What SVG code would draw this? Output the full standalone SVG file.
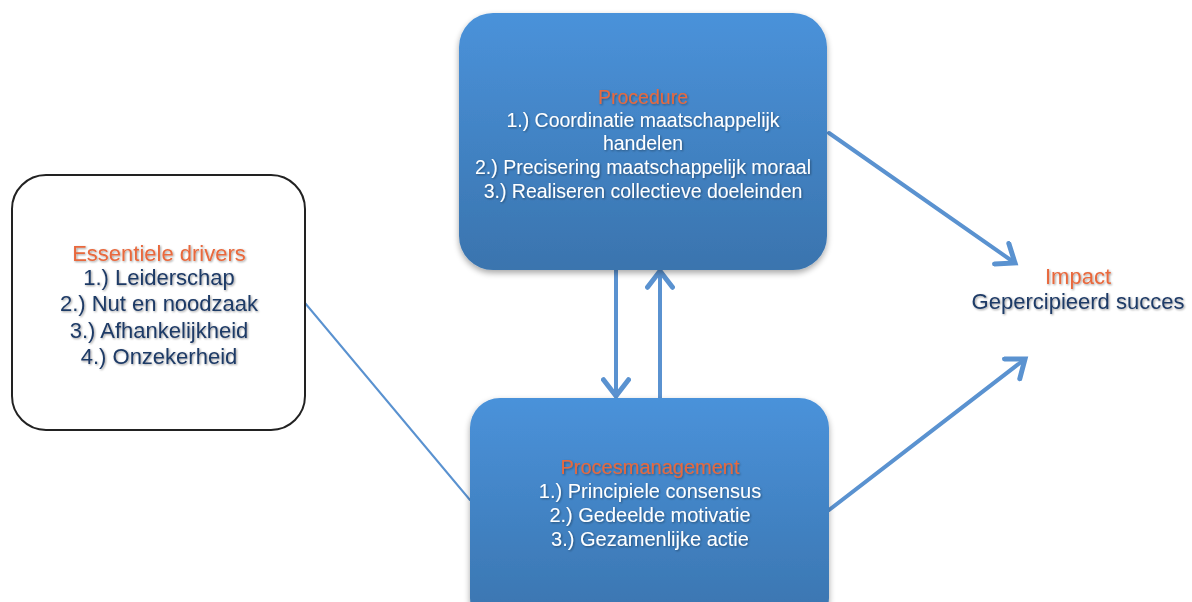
<svg xmlns="http://www.w3.org/2000/svg" width="1192" height="602" viewBox="0 0 1192 602">
<style>
.t{font-family:"Liberation Sans",Arial,sans-serif;text-anchor:middle}
.ttl{fill:#E8683C}
.w{fill:#FFFFFF}
.d{fill:#1F3A66}
.conn{stroke:#5A92D0;fill:none;stroke-linecap:round}
</style>
<defs>
<linearGradient id="blue" x1="0" y1="0" x2="0" y2="1">
<stop offset="0" stop-color="#4A92DA"/>
<stop offset="1" stop-color="#3A74AE"/>
</linearGradient>
<filter id="sh" x="-10%" y="-10%" width="120%" height="125%">
<feGaussianBlur in="SourceAlpha" stdDeviation="3"/>
<feOffset dx="0" dy="3"/>
<feComponentTransfer><feFuncA type="linear" slope="0.35"/></feComponentTransfer>
<feMerge><feMergeNode/><feMergeNode in="SourceGraphic"/></feMerge>
</filter>
<filter id="tsh" x="-5%" y="-30%" width="110%" height="160%">
<feGaussianBlur in="SourceAlpha" stdDeviation="1"/>
<feOffset dx="0.5" dy="1"/>
<feComponentTransfer><feFuncA type="linear" slope="0.4"/></feComponentTransfer>
<feMerge><feMergeNode/><feMergeNode in="SourceGraphic"/></feMerge>
</filter>
<marker id="ah" markerUnits="userSpaceOnUse" markerWidth="30" markerHeight="30" viewBox="-16 -12 20 24" refX="0" refY="0" orient="auto">
<path d="M-13,-10 L0,0 L-13,10" fill="none" stroke="#5A92D0" stroke-width="4" stroke-linecap="round" stroke-linejoin="miter"/>
</marker>
</defs>
<rect width="1192" height="602" fill="#FFFFFF"/>
<g id="connectors">
<line class="conn" x1="305" y1="303" x2="470" y2="500" stroke-width="2"/>
<line class="conn" x1="616" y1="268" x2="616" y2="396" stroke-width="4" marker-end="url(#ah)"/>
<line class="conn" x1="660" y1="400" x2="660" y2="271" stroke-width="4" marker-end="url(#ah)"/>
<line class="conn" x1="829" y1="133" x2="1015" y2="263" stroke-width="4" marker-end="url(#ah)"/>
<line class="conn" x1="829" y1="510" x2="1025" y2="359" stroke-width="4" marker-end="url(#ah)"/>
</g>
<g id="procedure">
<rect x="459" y="13" width="368" height="257" rx="34" fill="url(#blue)" filter="url(#sh)"/>
<g filter="url(#tsh)">
<text class="t ttl" x="643" y="104" font-size="19.5">Procedure</text>
<text class="t w" x="643" y="127" font-size="19.5">1.) Coordinatie maatschappelijk</text>
<text class="t w" x="643" y="150" font-size="19.5">handelen</text>
<text class="t w" x="643" y="174" font-size="19.5">2.) Precisering maatschappelijk moraal</text>
<text class="t w" x="643" y="198" font-size="19.5">3.) Realiseren collectieve doeleinden</text>
</g>
</g>
<g id="procesmanagement">
<rect x="470" y="398" width="359" height="230" rx="30" fill="url(#blue)" filter="url(#sh)"/>
<g filter="url(#tsh)">
<text class="t ttl" x="650" y="474" font-size="20">Procesmanagement</text>
<text class="t w" x="650" y="498" font-size="20">1.) Principiele consensus</text>
<text class="t w" x="650" y="522" font-size="20">2.) Gedeelde motivatie</text>
<text class="t w" x="650" y="546" font-size="20">3.) Gezamenlijke actie</text>
</g>
</g>
<g id="drivers">
<rect x="12" y="175" width="293" height="255" rx="34" fill="#FFFFFF" stroke="#222222" stroke-width="2"/>
<g filter="url(#tsh)">
<text class="t ttl" x="159" y="261" font-size="22">Essentiele drivers</text>
<text class="t d" x="159" y="285" font-size="22">1.) Leiderschap</text>
<text class="t d" x="159" y="311" font-size="22">2.) Nut en noodzaak</text>
<text class="t d" x="159" y="338" font-size="22">3.) Afhankelijkheid</text>
<text class="t d" x="159" y="364" font-size="22">4.) Onzekerheid</text>
</g>
</g>
<g id="impact">
<g filter="url(#tsh)">
<text class="t ttl" x="1078" y="284" font-size="22">Impact</text>
<text class="t d" x="1078" y="309" font-size="22">Gepercipieerd succes</text>
</g>
</g>
</svg>
